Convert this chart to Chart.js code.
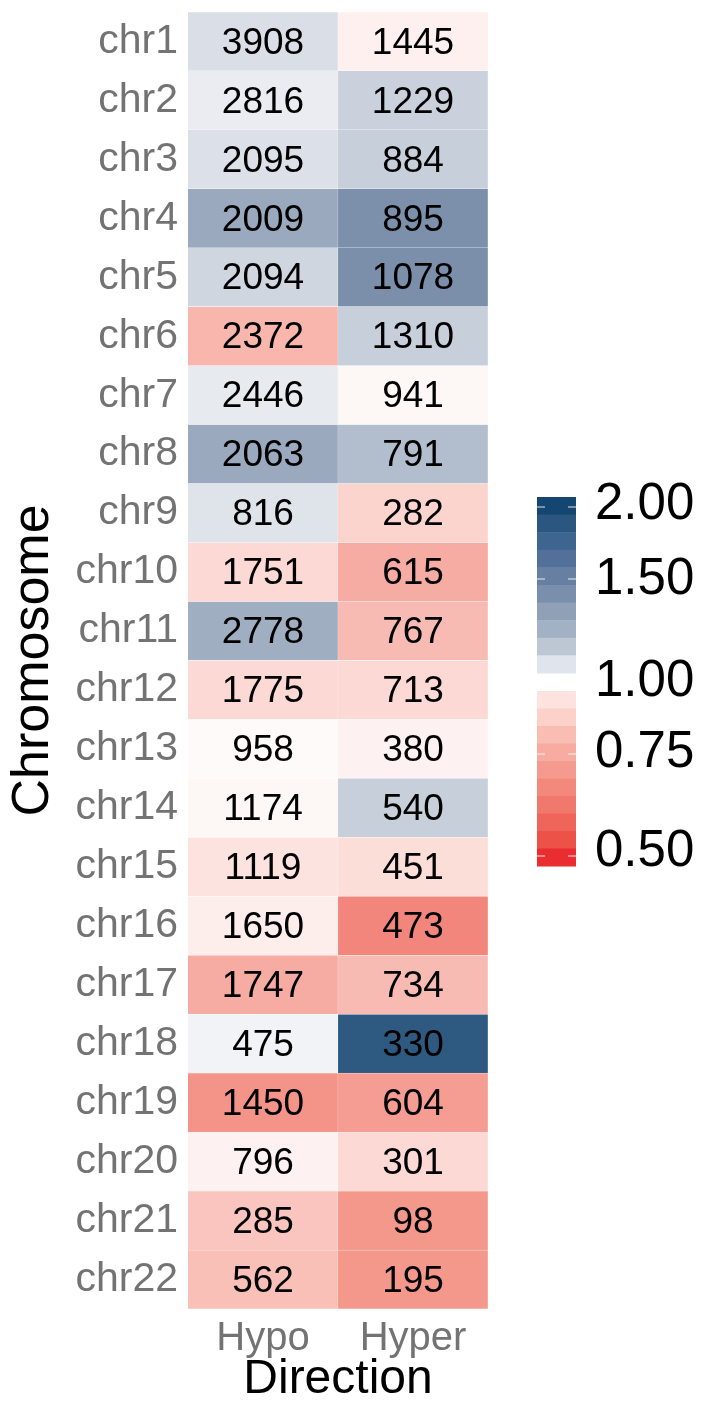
<!DOCTYPE html>
<html>
<head>
<meta charset="utf-8">
<script src="https://cdn.jsdelivr.net/npm/chart.js@4.4.1/dist/chart.umd.min.js"></script>
<style>
  body { margin: 0; background: #fff; }
  #wrap { width: 704px; height: 1407px; position: relative; }
</style>
</head>
<body>
<div id="wrap"><canvas id="heat"></canvas></div>
<script>
const chromosomes = ['chr1','chr2','chr3','chr4','chr5','chr6','chr7','chr8','chr9','chr10','chr11',
    'chr12','chr13','chr14','chr15','chr16','chr17','chr18','chr19','chr20','chr21','chr22'];
const directions = ['Hypo', 'Hyper'];

const hypoCounts = [3908,2816,2095,2009,2094,2372,2446,2063,816,1751,2778,1775,958,1174,1119,1650,1747,475,1450,796,285,562];
const hyperCounts = [1445,1229,884,895,1078,1310,941,791,282,615,767,713,380,540,451,473,734,330,604,301,98,195];

// ratio values behind the fill colour
const hypoRatio = [1.13,1.07,1.12,1.37,1.17,0.81,1.08,1.37,1.11,0.88,1.35,0.88,0.99,0.98,0.90,0.94,0.79,1.04,0.74,0.96,0.84,0.83];
const hyperRatio = [0.95,1.19,1.20,1.48,1.49,1.20,0.98,1.28,0.87,0.79,0.82,0.88,0.96,1.20,0.89,0.71,0.82,1.85,0.76,0.88,0.75,0.75];

const blueTicks = ['2.00', '1.50', '1.00'];
const redTicks = ['0.75', '0.50'];

const FONT = "'Liberation Sans', Arial, sans-serif";

// colour stops
const stops = [
    [0.5, [234, 42, 46]],
    [0.75, [244, 152, 140]],
    [0.9, [253, 227, 223]],
    [0.999, [253, 252, 252]],
    [1.0, [252, 252, 253]],
    [1.5, [120, 140, 168]],
    [2.0, [15, 68, 114]]
];

function ratioColor(r) {
    if (r <= stops[0][0]) return 'rgb(' + stops[0][1].join(',') + ')';
    for (let i = 1; i < stops.length; i++) {
        if (r <= stops[i][0]) {
            const a = stops[i - 1], b = stops[i];
            const t = (r - a[0]) / (b[0] - a[0]);
            const c = a[1].map((v, k) => Math.round(v + (b[1][k] - v) * t));
            return 'rgb(' + c.join(',') + ')';
        }
    }
    return 'rgb(' + stops[stops.length - 1][1].join(',') + ')';
}

// legend step colours, top to bottom
const blueSteps = ['#154571','#2a5680','#3d6590','#52709a','#677fa1','#7a8fab','#8fa0b7','#a3b1c4','#bdc7d4','#e0e5ed'];
const redSteps = ['#fde3df','#fbd1ca','#f9bdb4','#f7aba1','#f59a8f','#f3897d','#f1786c','#ef655a','#ec5247','#ea2d31'];

const cellLabels = {
    id: 'cellLabels',
    afterDatasetsDraw(chart) {
        const ctx = chart.ctx;
        ctx.save();
        ctx.font = '37px ' + FONT;
        ctx.fillStyle = '#000';
        ctx.textAlign = 'center';
        ctx.textBaseline = 'middle';
        const counts = [hypoCounts, hyperCounts];
        chart.data.datasets.forEach((ds, di) => {
            chart.getDatasetMeta(di).data.forEach((bar, i) => {
                const cx = (bar.x + bar.base) / 2;
                ctx.fillText(String(counts[di][i]), cx, bar.y + 2);
            });
        });
        ctx.restore();
    }
};

const stepLegend = {
    id: 'stepLegend',
    afterDraw(chart) {
        const ctx = chart.ctx;
        const x = 537, w = 39;
        ctx.save();
        // blue bar
        let y0 = 497, h = 176 / blueSteps.length;
        blueSteps.forEach((c, i) => {
            ctx.fillStyle = c;
            ctx.fillRect(x, y0 + i * h, w, h + 0.5);
        });
        // red bar
        let y1 = 691, h2 = 175 / redSteps.length;
        redSteps.forEach((c, i) => {
            ctx.fillStyle = c;
            ctx.fillRect(x, y1 + i * h2, w, h2 + 0.5);
        });
        // tick marks
        ctx.strokeStyle = 'rgba(255,255,255,0.85)';
        ctx.lineWidth = 1;
        [507, 579, 754, 856].forEach(ty => {
            ctx.beginPath();
            ctx.moveTo(x, ty); ctx.lineTo(x + 8, ty);
            ctx.moveTo(x + w - 8, ty); ctx.lineTo(x + w, ty);
            ctx.stroke();
        });
        // labels
        ctx.font = '51px ' + FONT;
        ctx.fillStyle = '#000';
        ctx.textAlign = 'left';
        ctx.textBaseline = 'middle';
        const blueY = [505, 580, 682];
        blueTicks.forEach((t, i) => ctx.fillText(t, 595, blueY[i]));
        const redY = [753, 852];
        redTicks.forEach((t, i) => ctx.fillText(t, 595, redY[i]));
        ctx.restore();
    }
};

new Chart(document.getElementById('heat'), {
    type: 'bar',
    data: {
        labels: chromosomes,
        datasets: [{
            label: directions[0],
            data: chromosomes.map(() => [0, 1]),
            backgroundColor: hypoRatio.map(ratioColor),
            borderColor: 'rgba(255,255,255,0.5)',
            borderWidth: 0.5,
            barPercentage: 1,
            categoryPercentage: 1
        }, {
            label: directions[1],
            data: chromosomes.map(() => [1, 2]),
            backgroundColor: hyperRatio.map(ratioColor),
            borderColor: 'rgba(255,255,255,0.5)',
            borderWidth: 0.5,
            barPercentage: 1,
            categoryPercentage: 1
        }]
    },
    options: {
        indexAxis: 'y',
        responsive: true,
        maintainAspectRatio: false,
        animation: false,
        devicePixelRatio: 1,
        layout: { padding: { left: 0, top: 12, right: 216, bottom: 0 } },
        plugins: {
            legend: { display: false },
            tooltip: { enabled: false }
        },
        scales: {
            x: {
                type: 'linear',
                min: 0,
                max: 2,
                grid: { display: false, drawTicks: false },
                border: { display: false },
                afterBuildTicks: (s) => { s.ticks = [{ value: 0.5 }, { value: 1.5 }]; },
                afterFit: (s) => { s.height = 98; s.paddingLeft = 0; s.paddingRight = 0; },
                ticks: {
                    callback: (v) => directions[v < 1 ? 0 : 1],
                    font: { size: 40, family: FONT },
                    color: '#737373',
                    padding: 6,
                    maxRotation: 0,
                    autoSkip: false
                },
                title: {
                    display: true,
                    text: 'Direction',
                    font: { size: 48, family: FONT },
                    color: '#000',
                    padding: { top: 0, bottom: -2 }
                }
            },
            y: {
                grid: { display: false, drawTicks: false },
                border: { display: false },
                afterFit: (s) => { s.width = 188; s.paddingTop = 0; s.paddingBottom = 0; },
                ticks: {
                    font: { size: 41, family: FONT },
                    color: '#737373',
                    padding: 10,
                    autoSkip: false
                },
                title: {
                    display: true,
                    text: 'Chromosome',
                    font: { size: 52, family: FONT },
                    color: '#000',
                    padding: { top: 2, bottom: 0 }
                }
            }
        },
        datasets: { bar: { grouped: false } }
    },
    plugins: [cellLabels, stepLegend]
});
</script>
</body>
</html>
